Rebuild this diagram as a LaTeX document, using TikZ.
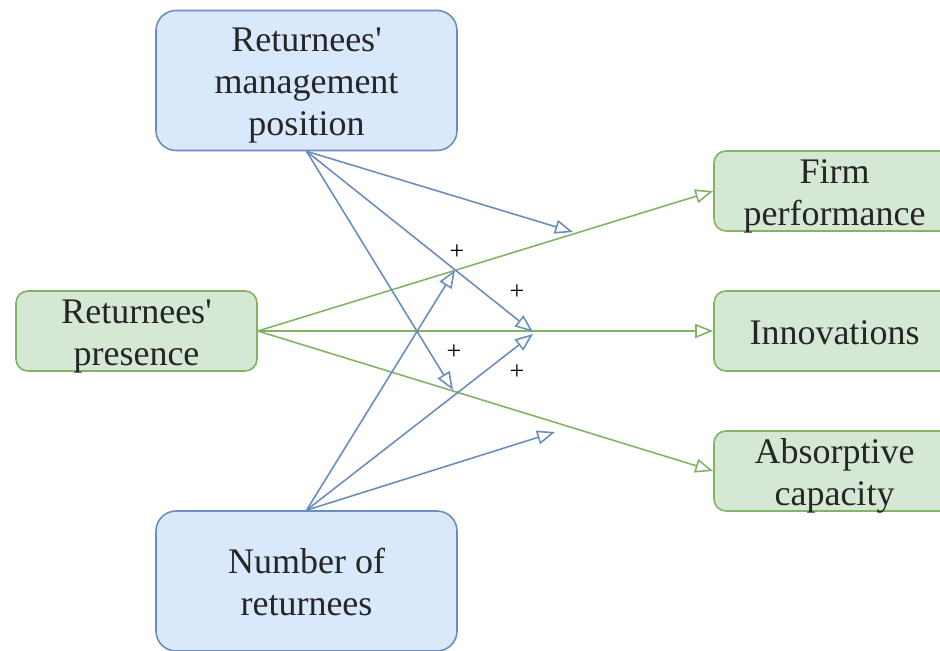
\documentclass[tikz,border=0pt]{standalone}
\usepackage{fontspec}
\setmainfont{Liberation Serif}
% a family without TeX ligatures keeps ' as a straight apostrophe
\newfontfamily\boxfont{Liberation Serif}
\usetikzlibrary{arrows.meta}
\definecolor{bluefill}{HTML}{DAE8FC}
\definecolor{bluedraw}{HTML}{6C8EBF}
\definecolor{greenfill}{HTML}{D5E8D4}
\definecolor{greendraw}{HTML}{82B366}
% box text, set a little below the geometric centre; its reported size is
% trimmed symmetrically so the boxes keep their minimum size
\newcommand\boxtext[1]{\raisebox{-2.5pt}[\dimexpr\height-4pt\relax][\dimexpr\depth-4pt\relax]{\begin{tabular}{@{}c@{}}#1\end{tabular}}}
\tikzset{
  bluebox/.style={draw=bluedraw, fill=bluefill, line width=0.8pt, rounded corners=10pt,
    minimum width=150.5pt, minimum height=70pt, inner sep=0pt, align=center,
    font=\boxfont\fontsize{18}{21}\selectfont, text=black!85},
  greenbox/.style={draw=greendraw, fill=greenfill, line width=0.8pt, rounded corners=6pt,
    minimum width=120.5pt, minimum height=40pt, inner sep=0pt, align=center,
    font=\boxfont\fontsize{18}{21}\selectfont, text=black!85},
  bluearrow/.style={draw=bluedraw, line width=0.8pt,
    -{Triangle[open, length=9pt, width=7pt]}},
  greenarrow/.style={draw=greendraw, line width=0.8pt,
    -{Triangle[open, length=9pt, width=7pt]}},
  sign/.style={font=\boxfont\fontsize{13}{13}\selectfont, inner sep=0pt}
}
\begin{document}
\begin{tikzpicture}[x=0.5pt, y=-0.5pt]
\useasboundingbox (0,0) rectangle (940,651);
\clip (0,0) rectangle (940,651);

% boxes
\node[bluebox] (mgmt) at (306.5,80.5) {\boxtext{Returnees'\\management\\position}};
\node[bluebox] (number) at (306.5,581) {\boxtext{Number of\\returnees}};
\node[greenbox] (presence) at (136.5,331) {\boxtext{Returnees'\\presence}};
\node[greenbox] (firm) at (834.5,191) {\boxtext{Firm\\performance}};
\node[greenbox] (innov) at (834.5,331) {\boxtext{Innovations}};
\node[greenbox] (absorb) at (834.5,471) {\boxtext{Absorptive\\capacity}};

% direct effects
\draw[greenarrow] (presence.east) -- (firm.west);
\draw[greenarrow] (presence.east) -- (innov.west);
\draw[greenarrow] (presence.east) -- (absorb.west);

% moderation end points on the direct-effect lines
\coordinate (mFirm) at (573,232);
\coordinate (mInnov) at (533,332);
\coordinate (mAbsorb) at (453,390);
\coordinate (nFirm) at (455,270);
\coordinate (nInnov) at (533,334);
\coordinate (nAbsorb) at (555,432);

% moderating effects
\draw[bluearrow] (mgmt.south) -- (mFirm);
\draw[bluearrow] (mgmt.south) -- (mInnov);
\draw[bluearrow] (mgmt.south) -- (mAbsorb);
\draw[bluearrow] (number.north) -- (nFirm);
\draw[bluearrow] (number.north) -- (nInnov);
\draw[bluearrow] (number.north) -- (nAbsorb);

% signs
\node[sign] (s1) at (457,252) {+};
\node[sign] (s2) at (517,292) {+};
\node[sign] (s3) at (454,352) {+};
\node[sign] (s4) at (517,372) {+};
\end{tikzpicture}
\end{document}
